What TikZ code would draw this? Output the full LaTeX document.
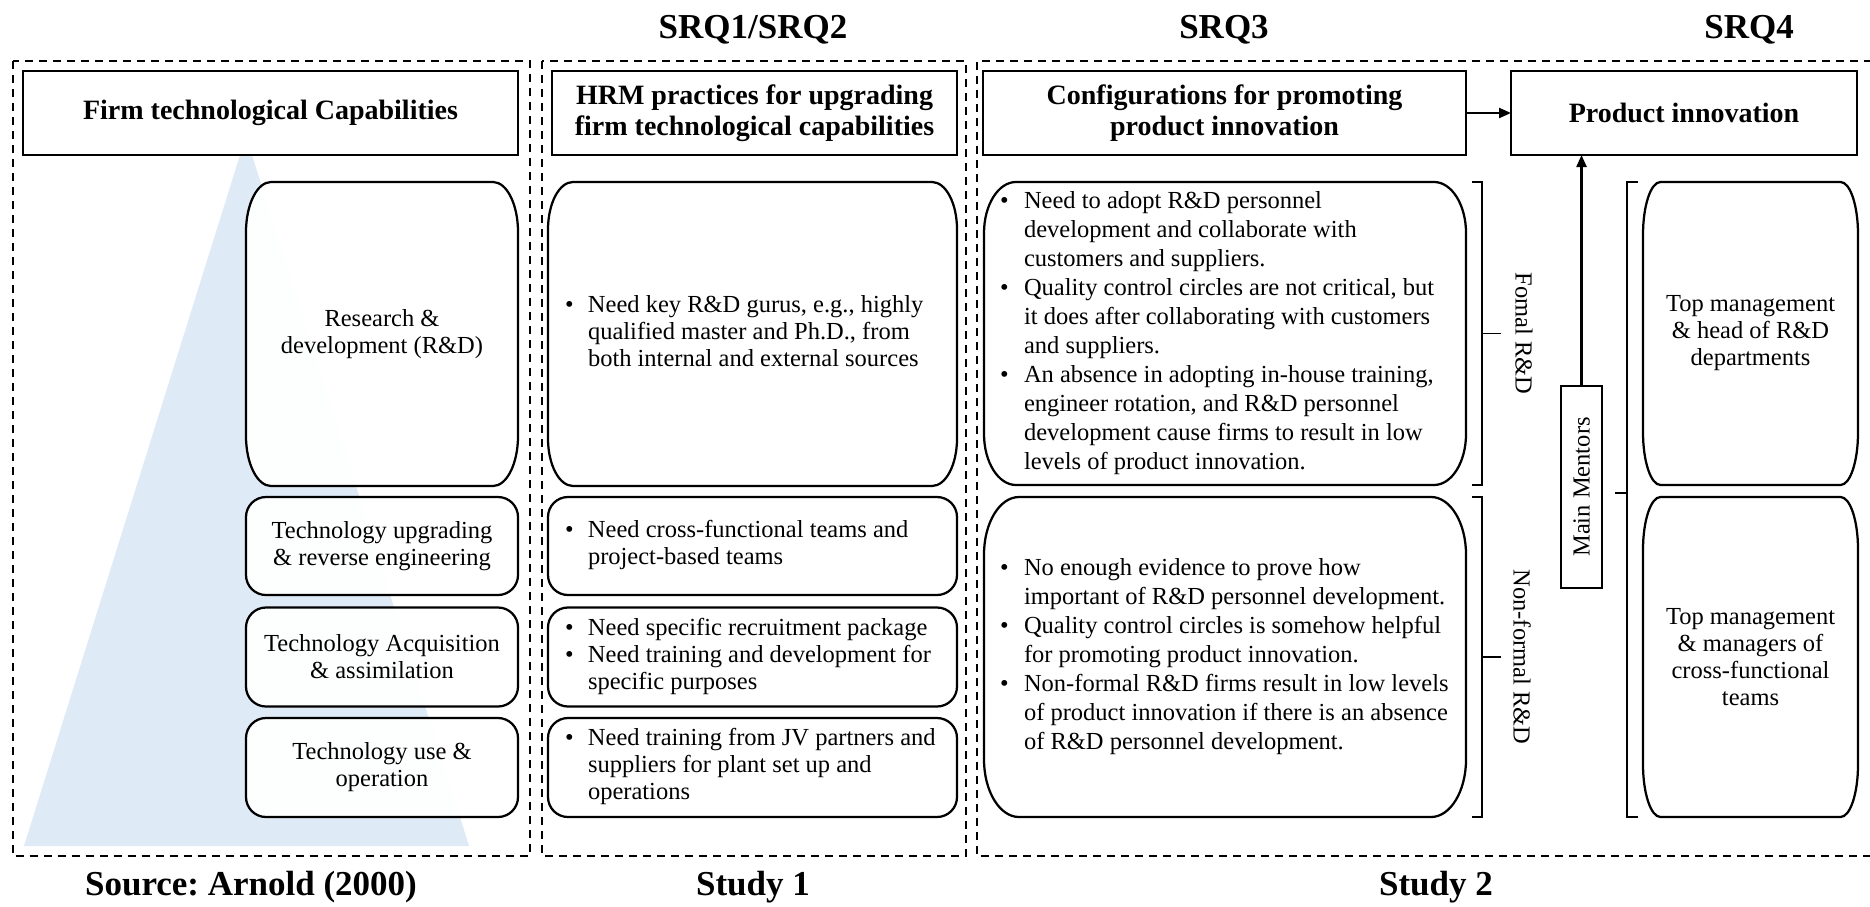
\documentclass[tikz,border=0pt]{standalone}
\usepackage{fontspec}
\setmainfont{Liberation Serif}
\frenchspacing
\usetikzlibrary{arrows.meta,backgrounds,calc}

\definecolor{pyramid}{RGB}{222,234,246}

% rounded frame with elliptical corners around a named rectangle node
\newcommand\ovalframe[3]{%
  \path[ovalstyle] ([xshift=#2]#1.north west) -- ([xshift=-#2]#1.north east)
    arc[start angle=90,end angle=0,x radius=#2,y radius=#3]
    -- ([yshift=#3]#1.south east)
    arc[start angle=0,end angle=-90,x radius=#2,y radius=#3]
    -- ([xshift=#2]#1.south west)
    arc[start angle=270,end angle=180,x radius=#2,y radius=#3]
    -- ([yshift=-#3]#1.north west)
    arc[start angle=180,end angle=90,x radius=#2,y radius=#3]
    -- cycle;}

\newcommand\bul{\textbullet}

\tikzset{
  frame/.style={draw, dash pattern=on 3.3pt off 2.3pt, line width=0.8pt},
  headbox/.style={draw, fill=white, line width=0.95pt, inner sep=0pt, outer sep=0pt,
    align=center, font=\fontsize{11.2}{12.2}\selectfont\bfseries},
  title/.style={anchor=base, inner sep=0pt, font=\fontsize{14}{16}\selectfont\bfseries},
  cell/.style={inner sep=0pt, outer sep=0pt, align=center,
    font=\fontsize{9.8}{10.8}\selectfont},
  widecell/.style={cell, font=\fontsize{9.8}{11.6}\selectfont},
  ovalstyle/.style={draw, line width=0.9pt, fill=white, fill opacity=0.96},
  sidelabel/.style={inner sep=0pt, font=\fontsize{9.8}{10.8}\selectfont},
  bracket/.style={draw, line width=0.7pt},
  link/.style={draw, line width=0.9pt, -{Triangle[length=4.8pt,width=4pt]}}
}

\begin{document}
\begin{tikzpicture}[x=0.4pt,y=-0.4pt]
\useasboundingbox (0,0) rectangle (1870,906);

% column titles and study labels
\node[title] (srq12) at (753,39) {SRQ1/SRQ2};
\node[title] (srq3) at (1224,39) {SRQ3};
\node[title] (srq4) at (1749,39) {SRQ4};
\node[title] (source) at (251,895) {Source: Arnold (2000)};
\node[title] (study1) at (753,895) {Study 1};
\node[title] (study2) at (1436,895) {Study 2};

% dashed study frames
\draw[frame] (12.5,61) rectangle (530,856);
\draw[frame] (542,61) rectangle (966,856);
\draw[frame] (1872,61) -- (977,61) -- (977,856) -- (1872,856);

% header boxes
\node[headbox, minimum width=198pt, minimum height=33.6pt] (h1) at (270.5,113)
  {Firm technological Capabilities};
\node[headbox, minimum width=162pt, minimum height=33.6pt] (h2) at (754.5,113)
  {HRM practices for upgrading\\firm technological capabilities};
\node[headbox, minimum width=193.2pt, minimum height=33.6pt] (h3) at (1224.5,113)
  {Configurations for promoting\\product innovation};
\node[headbox, minimum width=138.4pt, minimum height=33.6pt] (h4) at (1684,113)
  {Product innovation};

% capability levels
\node[cell, minimum width=108.8pt, minimum height=121.6pt] (rd) at (382,334)
  {Research \&\\development (R\&D)};
\node[cell, minimum width=108.8pt, minimum height=39.2pt] (upg) at (382,546)
  {Technology upgrading\\\& reverse engineering};
\node[cell, minimum width=108.8pt, minimum height=39.6pt] (acq) at (382,657)
  {Technology Acquisition\\\& assimilation};
\node[cell, minimum width=108.8pt, minimum height=39.6pt] (use) at (382,767.5)
  {Technology use \&\\operation};

% HRM practices
\node[cell, minimum width=163.6pt, minimum height=121.6pt] (hrm1) at (752.5,334)
  {\makebox[150pt][l]{\begin{tabular}{@{}p{9.2pt}@{}l@{}}
   \bul & Need key R\&D gurus, e.g., highly\\
        & qualified master and Ph.D., from\\
        & both internal and external sources
   \end{tabular}}};
\node[cell, minimum width=163.6pt, minimum height=39.2pt] (hrm2) at (752.5,546)
  {\makebox[150pt][l]{\begin{tabular}{@{}p{9.2pt}@{}l@{}}
   \bul & Need cross-functional teams and\\
        & project-based teams
   \end{tabular}}};
\node[cell, minimum width=163.6pt, minimum height=39.6pt] (hrm3) at (752.5,657)
  {\makebox[150pt][l]{\begin{tabular}{@{}p{9.2pt}@{}l@{}}
   \bul & Need specific recruitment package\\
   \bul & Need training and development for\\
        & specific purposes
   \end{tabular}}};
\node[cell, minimum width=163.6pt, minimum height=39.6pt] (hrm4) at (752.5,767.5)
  {\makebox[150pt][l]{\begin{tabular}{@{}p{9.2pt}@{}l@{}}
   \bul & Need training from JV partners and\\
        & suppliers for plant set up and\\
        & operations
   \end{tabular}}};

% configurations
\node[widecell, minimum width=192.8pt, minimum height=121.2pt] (formal) at (1225,333.5)
  {\makebox[180pt][l]{\begin{tabular}{@{}p{9.6pt}@{}l@{}}
   \bul & Need to adopt R\&D personnel\\
        & development and collaborate with\\
        & customers and suppliers.\\
   \bul & Quality control circles are not critical, but\\
        & it does after collaborating with customers\\
        & and suppliers.\\
   \bul & An absence in adopting in-house training,\\
        & engineer rotation, and R\&D personnel\\
        & development cause firms to result in low\\
        & levels of product innovation.
   \end{tabular}}};
\node[widecell, minimum width=192.8pt, minimum height=128pt] (nonformal) at (1225,657)
  {\makebox[180pt][l]{\begin{tabular}{@{}p{9.6pt}@{}l@{}}
   \bul & No enough evidence to prove how\\
        & important of R\&D personnel development.\\
   \bul & Quality control circles is somehow helpful\\
        & for promoting product innovation.\\
   \bul & Non-formal R\&D firms result in low levels\\
        & of product innovation if there is an absence\\
        & of R\&D personnel development.
   \end{tabular}}};

% mentors
\node[cell, minimum width=86pt, minimum height=121.2pt] (m1) at (1750.5,333.5)
  {Top management\\\& head of R\&D\\departments};
\node[cell, minimum width=86pt, minimum height=128pt] (m2) at (1750.5,657)
  {Top management\\\& managers of\\cross-functional\\teams};
\node[draw, line width=0.9pt, inner sep=0pt, minimum width=80.8pt, minimum height=16.4pt,
  rotate=90, font=\fontsize{9.8}{10.8}\selectfont] (mentors) at (1581.5,487) {Main Mentors};

% side labels of the configuration groups
\node[sidelabel, rotate=-90] (lblformal) at (1524,333.5) {Fomal R\&D};
\node[sidelabel, rotate=-90] (lblnonformal) at (1522,657) {Non-formal R\&D};

% brackets
\draw[bracket] ([xshift=2.4pt]formal.north east) -- ([xshift=6.4pt]formal.north east)
  -- ([xshift=6.4pt]formal.south east) -- ([xshift=2.4pt]formal.south east);
\draw[bracket] ([xshift=6.4pt]formal.east) -- ([xshift=14pt]formal.east);
\draw[bracket] ([xshift=2.4pt]nonformal.north east) -- ([xshift=6.4pt]nonformal.north east)
  -- ([xshift=6.4pt]nonformal.south east) -- ([xshift=2.4pt]nonformal.south east);
\draw[bracket] ([xshift=6.4pt]nonformal.east) -- ([xshift=14pt]nonformal.east);
\coordinate (ctop) at ([xshift=-6.4pt]m1.north west);
\coordinate (cbot) at ([xshift=-6.4pt]m2.south west);
\draw[bracket] ([xshift=4.4pt]ctop) -- (ctop) -- (cbot) -- ([xshift=4.4pt]cbot);
\coordinate (cmid) at ($(ctop)!0.49!(cbot)$);
\draw[bracket] (cmid) -- ([xshift=-4.8pt]cmid);

% connectors
\draw[link] (h3.east) -- (h4.west);
\draw[link] (mentors.east) -- (mentors.east |- h4.south);

% pyramid and rounded frames behind the text
\begin{scope}[on background layer]
  \fill[pyramid] (246,136) -- (469,846) -- (24,846) -- cycle;
  \ovalframe{rd}{10pt}{20pt}
  \ovalframe{upg}{8pt}{8pt}
  \ovalframe{acq}{8pt}{8pt}
  \ovalframe{use}{8pt}{8pt}
  \ovalframe{hrm1}{10pt}{19pt}
  \ovalframe{hrm2}{8pt}{8pt}
  \ovalframe{hrm3}{8pt}{8pt}
  \ovalframe{hrm4}{8pt}{8pt}
  \ovalframe{formal}{12.8pt}{20.4pt}
  \ovalframe{nonformal}{14pt}{23pt}
  \ovalframe{m1}{7pt}{21pt}
  \ovalframe{m2}{7pt}{21pt}
\end{scope}
\end{tikzpicture}
\end{document}
